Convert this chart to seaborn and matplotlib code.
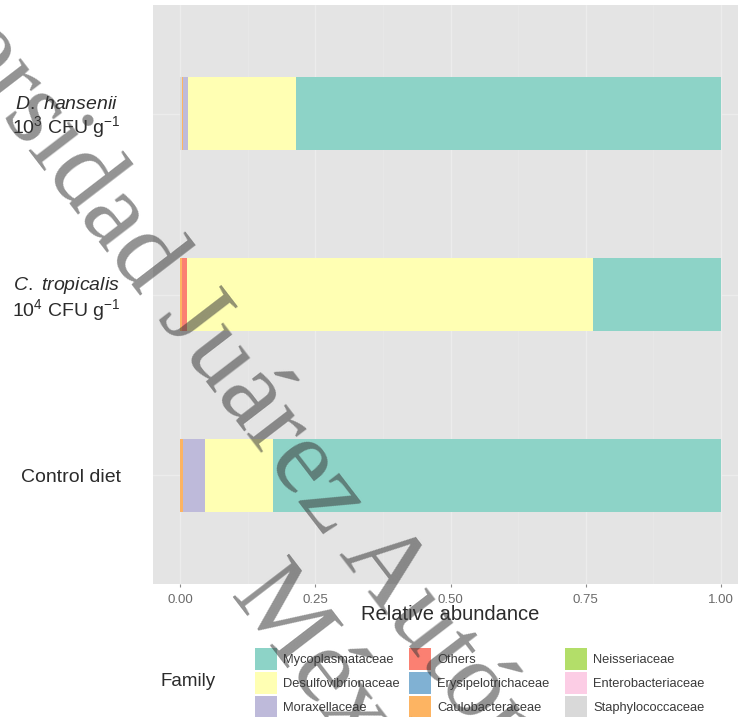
import numpy as np
import pandas as pd
import matplotlib
matplotlib.use("Agg")
import matplotlib.pyplot as plt
from matplotlib.patches import Patch
from matplotlib.ticker import FixedLocator
import seaborn as sns

# ---- data -------------------------------------------------------------
samples = ["D. hansenii", "C. tropicalis", "Control diet"]
sample_labels = [
    r"$\mathit{D.}$ $\mathit{hansenii}$" + "\n" + r"10$^{3}$ CFU g$^{-1}$",
    r"$\mathit{C.}$ $\mathit{tropicalis}$" + "\n" + r"10$^{4}$ CFU g$^{-1}$",
    "Control diet",
]
families = ["Mycoplasmataceae", "Desulfovibrionaceae", "Moraxellaceae",
            "Others", "Erysipelotrichaceae", "Caulobacteraceae",
            "Neisseriaceae", "Enterobacteriaceae", "Staphylococcaceae"]

# relative abundance per family, in the order of `samples`
mycoplasmataceae = [0.785, 0.237, 0.828]
desulfovibrionaceae = [0.201, 0.751, 0.125]
moraxellaceae = [0.008, 0.000, 0.041]
others = [0.000, 0.008, 0.000]
erysipelotrichaceae = [0.000, 0.000, 0.000]
caulobacteraceae = [0.002, 0.004, 0.006]
neisseriaceae = [0.000, 0.000, 0.000]
enterobacteriaceae = [0.000, 0.000, 0.000]
staphylococcaceae = [0.004, 0.000, 0.000]

x_ticks = [0.0, 0.25, 0.50, 0.75, 1.0]
x_tick_labels = ["0.00", "0.25", "0.50", "0.75", "1.00"]

abundance = {
    "Mycoplasmataceae": mycoplasmataceae,
    "Desulfovibrionaceae": desulfovibrionaceae,
    "Moraxellaceae": moraxellaceae,
    "Others": others,
    "Erysipelotrichaceae": erysipelotrichaceae,
    "Caulobacteraceae": caulobacteraceae,
    "Neisseriaceae": neisseriaceae,
    "Enterobacteriaceae": enterobacteriaceae,
    "Staphylococcaceae": staphylococcaceae,
}

df = pd.DataFrame([
    {"sample": s, "family": f, "value": abundance[f][i]}
    for f in families for i, s in enumerate(samples)
])

# stacking runs from the last family (at 0) to the first (at 1)
stack_order = families[::-1]
df["family"] = pd.Categorical(df["family"], categories=stack_order, ordered=True)
df = df.sort_values(["sample", "family"])
df["cum"] = df.groupby("sample", observed=True)["value"].cumsum()

palette = dict(zip(families, sns.color_palette("Set3", len(families))))

# ---- style ------------------------------------------------------------
sns.set_theme(style="darkgrid", rc={
    "axes.facecolor": "#E4E4E4",
    "grid.color": "#ECECEC",
    "grid.linewidth": 1.0,
})
plt.rcParams["font.family"] = ["Liberation Sans", "DejaVu Sans"]
plt.rcParams["mathtext.fontset"] = "custom"
plt.rcParams["mathtext.rm"] = "Liberation Sans"
plt.rcParams["mathtext.it"] = "Liberation Sans:italic"
plt.rcParams["mathtext.bf"] = "Liberation Sans:bold"

W, H = 738, 717
fig = plt.figure(figsize=(W / 100, H / 100), dpi=100)
fig.patch.set_facecolor("white")
ax = fig.add_axes([153 / W, 1 - 584 / H, 595 / W, 579 / H])

# ---- stacked bars: draw cumulative totals, widest first ----------------
for fam in families:
    sub = df[df["family"] == fam]
    sns.barplot(data=sub, x="cum", y="sample", order=samples, orient="h",
                color=palette[fam], saturation=1, width=0.4,
                errorbar=None, linewidth=0, ax=ax)

ax.set_xlim(-0.05, 1.05)
ax.set_ylim(2.6, -0.6)
ax.xaxis.set_major_locator(FixedLocator(x_ticks))
ax.set_xticklabels(x_tick_labels)
ax.xaxis.set_minor_locator(FixedLocator([0.125, 0.375, 0.625, 0.875]))
ax.grid(which="major", color="#ECECEC", linewidth=1.0)
ax.grid(which="minor", axis="x", color="#E8E8E8", linewidth=0.6)
ax.set_axisbelow(True)
for sp in ax.spines.values():
    sp.set_visible(False)

ax.set_yticks(range(len(samples)))
ax.set_yticklabels(sample_labels, linespacing=1.1)
ax.tick_params(axis="y", length=0, pad=23, labelsize=14, labelcolor="#2b2b2b")
ax.tick_params(axis="x", which="major", bottom=True, length=2.5, width=0.8,
               color="#8a8a8a", pad=5, labelsize=9.5, labelcolor="#6a6a6a")
ax.tick_params(axis="x", which="minor", bottom=False)
for lab in ax.get_yticklabels():
    lab.set_horizontalalignment("right")
    lab.set_multialignment("center")

ax.set_ylabel("")
ax.set_xlabel("Relative abundance", fontsize=14.5, color="#2b2b2b", labelpad=-1)

# ---- legend: three columns to the right of the "Family" title ----------
fig.text(160 / W, 1 - 681 / H, "Family", fontsize=13.5, color="#2b2b2b",
         ha="left", va="center")
col_x = [255, 409, 565]
for c in range(3):
    fams = families[c * 3:(c + 1) * 3]
    handles = [Patch(facecolor=palette[f], edgecolor="none") for f in fams]
    fig.legend(handles, fams, loc="upper left",
               bbox_to_anchor=(col_x[c] / W, 1 - 648 / H),
               frameon=False, fontsize=9.3, handlelength=1.70,
               handleheight=2.24, labelspacing=0.155, handletextpad=0.47,
               borderpad=0, borderaxespad=0, labelcolor="#3a3a3a")

# ---- institutional watermark (two lines, running diagonally) -----------
wm_style = dict(family="Liberation Serif", fontsize=78, color="#3a3a3a",
                alpha=0.55, rotation=-52.5, rotation_mode="anchor",
                ha="center", va="center", zorder=10)
fig.text(392 / W, 1 - 582 / H, "Universidad Juárez Autónoma de Tabasco",
         **wm_style)
fig.text(350 / W, 1 - 712 / H, "México", **wm_style)

fig.savefig("out.png", dpi=100)
